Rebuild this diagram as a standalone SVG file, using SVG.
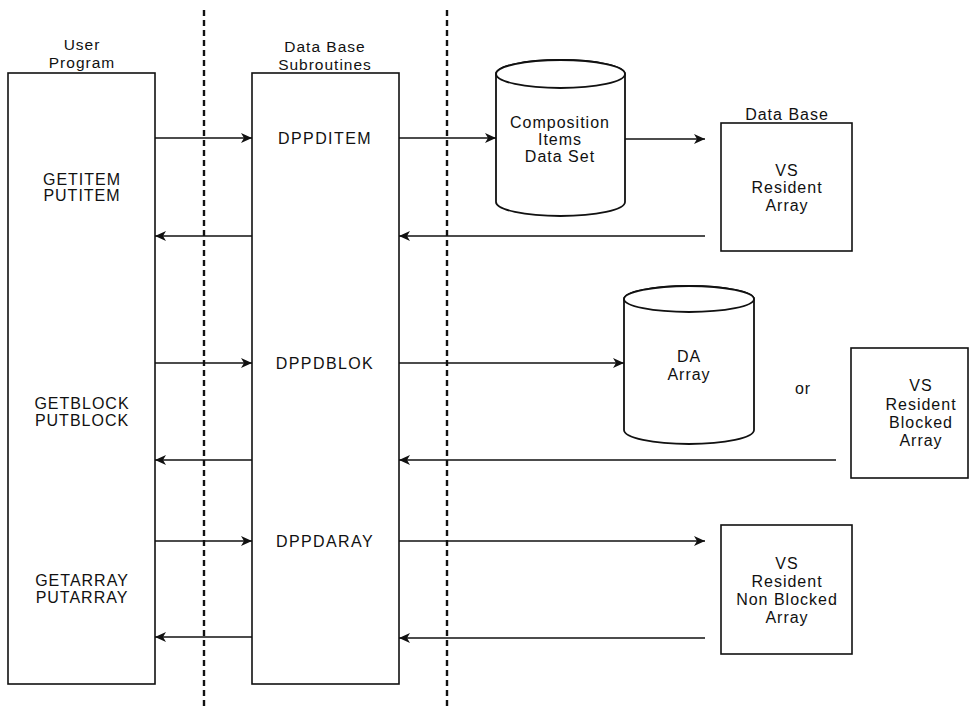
<svg xmlns="http://www.w3.org/2000/svg" width="971" height="706" viewBox="0 0 971 706">
<style>
text{font-family:"Liberation Sans",Arial,Helvetica,sans-serif;font-size:16px;fill:#111;text-anchor:middle;letter-spacing:1px}
.hd{font-size:15.5px}
.box{fill:none;stroke:#111;stroke-width:1.6}
.cyl{fill:#fff;stroke:#111;stroke-width:1.8}
.sep{stroke:#111;stroke-width:2.4;stroke-dasharray:6 4;fill:none}
.arr{stroke:#111;stroke-width:1.3;fill:none;marker-end:url(#ah)}
</style>
<defs>
<marker id="ah" markerUnits="userSpaceOnUse" markerWidth="12" markerHeight="10" refX="11" refY="5" orient="auto">
<path d="M0,0 L11,5 L0,10 L3,5 z" fill="#111"/>
</marker>
</defs>
<rect width="971" height="706" fill="#fff"/>
<g id="separators">
<line class="sep" x1="204" y1="10" x2="204" y2="706"/>
<line class="sep" x1="447" y1="10" x2="447" y2="706"/>
</g>
<g id="user-program">
<text class="hd" x="82" y="50">User</text>
<text class="hd" x="82" y="68">Program</text>
<rect class="box" x="8" y="73" width="147" height="611"/>
<text x="82" y="185">GETITEM</text>
<text x="82" y="201">PUTITEM</text>
<text x="82" y="409">GETBLOCK</text>
<text x="82" y="426">PUTBLOCK</text>
<text x="82" y="586">GETARRAY</text>
<text x="82" y="603">PUTARRAY</text>
</g>
<g id="db-subroutines">
<text class="hd" x="325" y="52">Data Base</text>
<text class="hd" x="325" y="70">Subroutines</text>
<rect class="box" x="252" y="73" width="147" height="611"/>
<text x="325" y="144" style="letter-spacing:1.4px">DPPDITEM</text>
<text x="325" y="369" style="letter-spacing:1.4px">DPPDBLOK</text>
<text x="325" y="547" style="letter-spacing:1.4px">DPPDARAY</text>
</g>
<g id="composition-items">
<path class="cyl" d="M496,74 L496,202 A64.5,14 0 0 0 625,202 L625,74 A64.5,14 0 0 0 496,74 Z"/>
<ellipse class="cyl" cx="560.5" cy="74" rx="64.5" ry="14"/>
<text x="560" y="128">Composition</text>
<text x="560" y="145">Items</text>
<text x="560" y="162">Data Set</text>
</g>
<g id="vs-resident-array">
<text x="787" y="120">Data Base</text>
<rect class="box" x="721" y="123" width="131" height="128"/>
<text x="787" y="176">VS</text>
<text x="787" y="193">Resident</text>
<text x="787" y="211">Array</text>
</g>
<g id="da-array">
<path class="cyl" d="M624,299 L624,430 A65,14 0 0 0 754,430 L754,299 A65,13 0 0 0 624,299 Z"/>
<ellipse class="cyl" cx="689" cy="299" rx="65" ry="13"/>
<text x="689" y="362">DA</text>
<text x="689" y="380">Array</text>
</g>
<g id="or-label">
<text x="803" y="394">or</text>
</g>
<g id="vs-resident-blocked-array">
<rect class="box" x="851" y="348" width="117" height="130"/>
<text x="921" y="391">VS</text>
<text x="921" y="410">Resident</text>
<text x="921" y="428">Blocked</text>
<text x="921" y="446">Array</text>
</g>
<g id="vs-resident-nonblocked-array">
<rect class="box" x="721" y="525" width="131" height="129"/>
<text x="787" y="569">VS</text>
<text x="787" y="587">Resident</text>
<text x="787" y="605">Non Blocked</text>
<text x="787" y="623">Array</text>
</g>
<g id="connectors">
<line class="arr" x1="155" y1="138" x2="252" y2="138"/>
<line class="arr" x1="252" y1="236" x2="155" y2="236"/>
<line class="arr" x1="399" y1="138" x2="496" y2="138"/>
<line class="arr" x1="625" y1="139" x2="705" y2="139"/>
<line class="arr" x1="705" y1="236" x2="399" y2="236"/>
<line class="arr" x1="155" y1="363" x2="252" y2="363"/>
<line class="arr" x1="252" y1="460" x2="155" y2="460"/>
<line class="arr" x1="399" y1="363" x2="624" y2="363"/>
<line class="arr" x1="836" y1="460" x2="399" y2="460"/>
<line class="arr" x1="155" y1="541" x2="252" y2="541"/>
<line class="arr" x1="252" y1="637" x2="155" y2="637"/>
<line class="arr" x1="399" y1="541" x2="705" y2="541"/>
<line class="arr" x1="705" y1="638" x2="399" y2="638"/>
</g>
</svg>
